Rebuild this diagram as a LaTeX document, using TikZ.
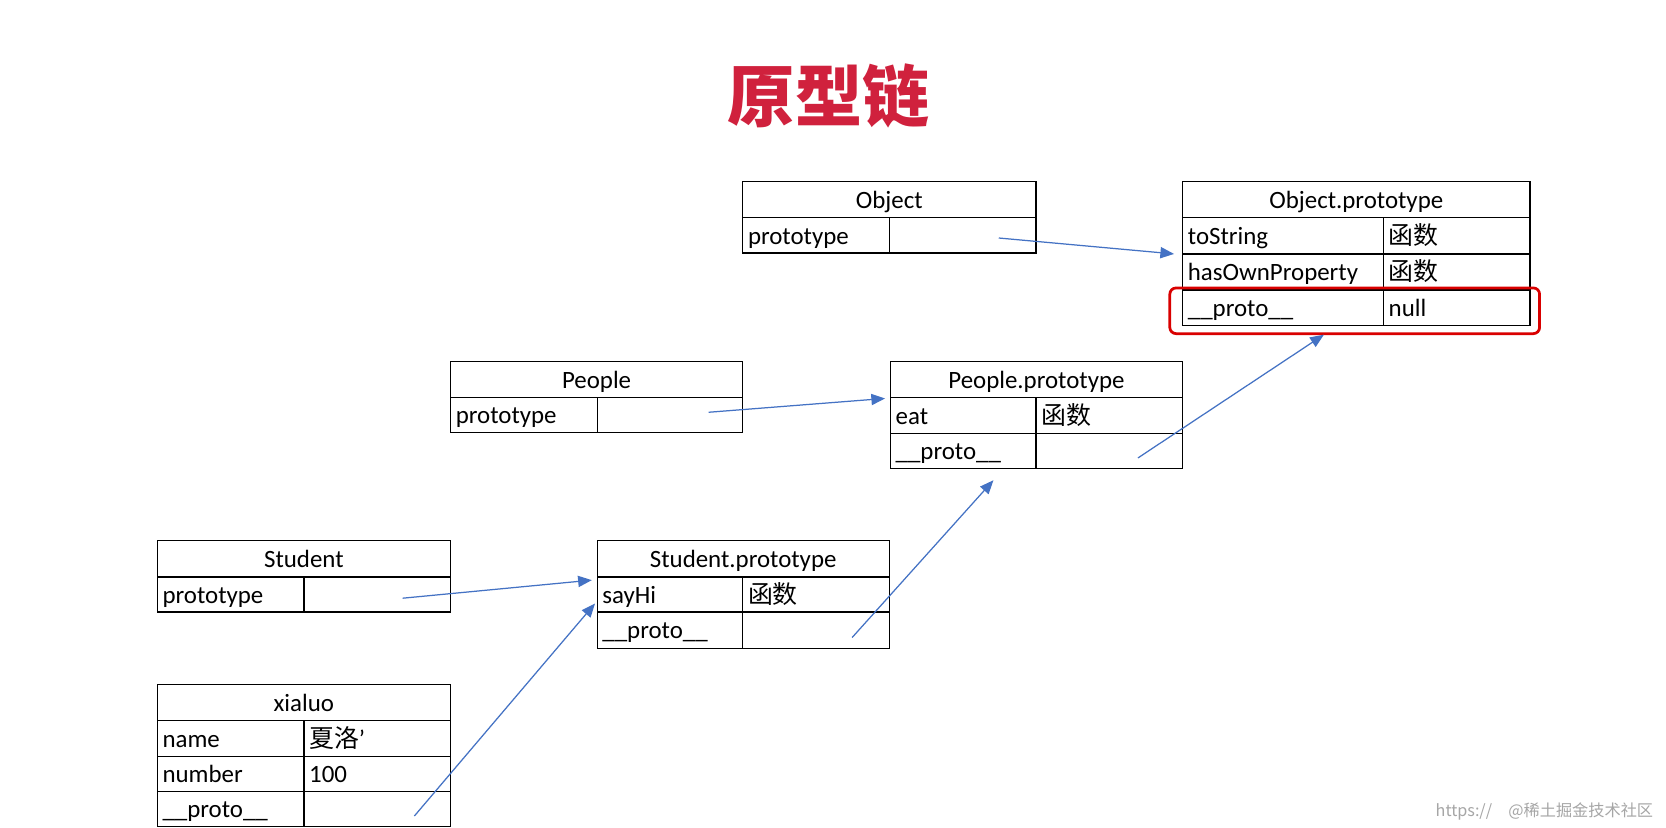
\documentclass[tikz,border=0pt]{standalone}
\usepackage{fontspec}
\setmainfont{Carlito}
\newfontfamily\cjk{Noto Sans CJK SC}
\usetikzlibrary{arrows.meta}
\definecolor{ar}{HTML}{4472C4}
\definecolor{tt}{HTML}{D0213D}
\newcommand\tcell[6]{%
  \node[cellbox, minimum height={(#5-#3)*0.03cm}, text width={(#4-#2-10)*0.03cm}] (#1) at ({(#2+#4)/2},{(#3+#5)/2}) {#6};}
\newcommand\hcell[6]{%
  \node[cellbox, minimum height={(#5-#3)*0.03cm}, text width={(#4-#2-10)*0.03cm}, align=center] (#1) at ({(#2+#4)/2},{(#3+#5)/2}) {#6};}
\begin{document}
\begin{tikzpicture}[x=0.03cm,y=-0.03cm,
  cellbox/.style={draw=black, line width=1pt, inner xsep=0.15cm, inner ysep=0pt, align=left, text height=16pt, text depth=2pt, font=\fontsize{20}{22}\selectfont},
  link/.style={draw=ar, line width=1pt, -{Triangle[length=11pt,width=9pt]}}]
\useasboundingbox[fill=white] (0,0) rectangle (1568,779);
\node[font=\cjk\bfseries\fontsize{54}{60}\selectfont, text=tt] (title) at (780,90) {原型链};
% Object
\hcell{oh}{699}{171}{975}{205}{Object}
\tcell{op}{699}{205}{837}{238}{prototype}
\tcell{ov}{837}{205}{975}{238}{}
% Object.prototype
\hcell{oph}{1113}{171}{1440}{205}{Object.prototype}
\tcell{opa}{1113}{205}{1302}{239}{toString}
\tcell{opav}{1302}{205}{1440}{239}{\cjk 函数}
\tcell{opb}{1113}{239}{1302}{273}{hasOwnProperty}
\tcell{opbv}{1302}{239}{1440}{273}{\cjk 函数}
\tcell{opc}{1113}{273}{1302}{306}{\_\_proto\_\_}
\tcell{opcv}{1302}{273}{1440}{306}{null}
\node[draw=red!85!black, line width=2.2pt, rounded corners=5pt, minimum width={348*0.03cm}, minimum height={43*0.03cm}] (hl) at (1275,292.5) {};
% People
\hcell{ph}{424}{340}{699}{374}{People}
\tcell{pp}{424}{374}{562}{407}{prototype}
\tcell{pv}{562}{374}{699}{407}{}
% People.prototype
\hcell{pph}{838}{340}{1113}{374}{People.prototype}
\tcell{ppa}{838}{374}{975}{408}{eat}
\tcell{ppav}{975}{374}{1113}{408}{\cjk 函数}
\tcell{ppb}{838}{408}{975}{441}{\_\_proto\_\_}
\tcell{ppbv}{975}{408}{1113}{441}{}
% Student
\hcell{sh}{148}{509}{424}{543}{Student}
\tcell{sp}{148}{543}{286}{576}{prototype}
\tcell{sv}{286}{543}{424}{576}{}
% Student.prototype
\hcell{sph}{562}{509}{837}{543}{Student.prototype}
\tcell{spa}{562}{543}{699}{576}{sayHi}
\tcell{spav}{699}{543}{837}{576}{\cjk 函数}
\tcell{spb}{562}{576}{699}{610}{\_\_proto\_\_}
\tcell{spbv}{699}{576}{837}{610}{}
% xialuo
\hcell{xh}{148}{644}{424}{678}{xialuo}
\tcell{xa}{148}{678}{286}{712}{name}
\tcell{xav}{286}{678}{424}{712}{{\cjk 夏洛}'}
\tcell{xb}{148}{712}{286}{745}{number}
\tcell{xbv}{286}{712}{424}{745}{100}
\tcell{xc}{148}{745}{286}{778}{\_\_proto\_\_}
\tcell{xcv}{286}{745}{424}{778}{}
% arrows
\coordinate (a1s) at (940,224); \coordinate (a1e) at (1105,239);
\coordinate (a2s) at (667,388); \coordinate (a2e) at (833,375);
\coordinate (a3s) at (379,563); \coordinate (a3e) at (557,546);
\coordinate (a4s) at (390,768); \coordinate (a4e) at (560,568);
\coordinate (a5s) at (802,600); \coordinate (a5e) at (935,452);
\coordinate (a6s) at (1071,431); \coordinate (a6e) at (1246,315);
\foreach \i in {1,...,6} \draw[link] (a\i s) -- (a\i e);
\node[anchor=east, text=gray!70, font=\cjk\fontsize{13}{15}\selectfont] (wm) at (1560,764) {https://\quad @稀土掘金技术社区};
\end{tikzpicture}
\end{document}
